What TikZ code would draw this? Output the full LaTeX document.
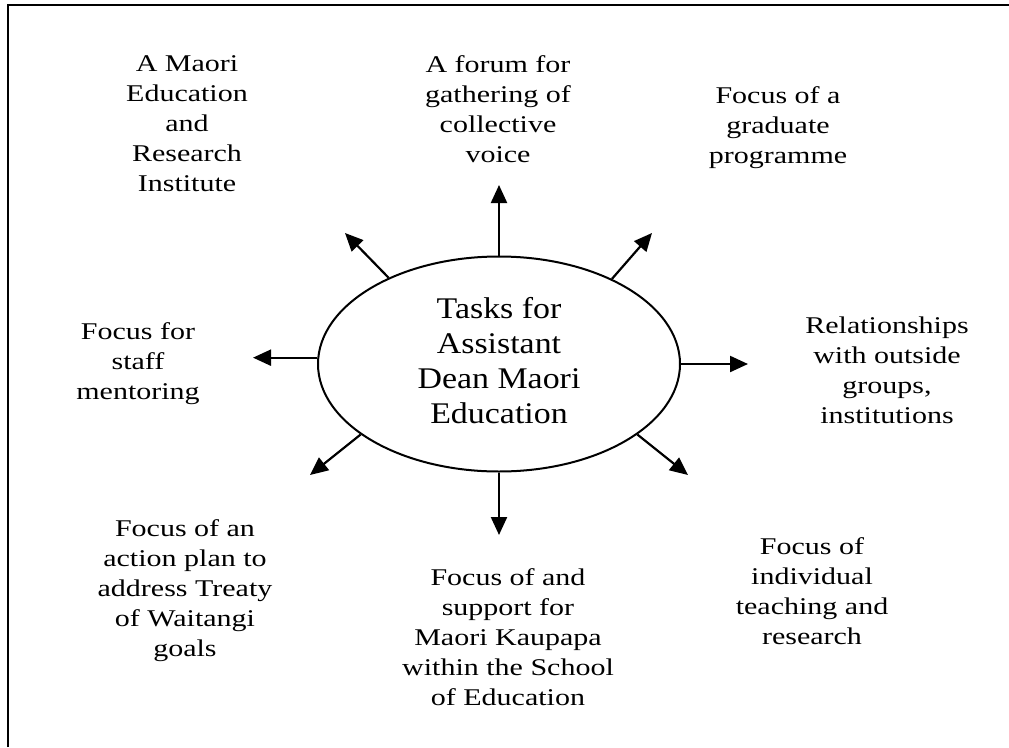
\documentclass[tikz,border=0pt]{standalone}
\usepackage{fontspec}
\setmainfont{Liberation Serif}
\usetikzlibrary{arrows.meta,shapes.geometric}
\newcommand\lbltext[1]{\scalebox{1.25}[1]{\fontsize{24}{30}\selectfont\begin{tabular}{@{}c@{}}#1\end{tabular}}}
\newcommand\ctrtext[1]{\scalebox{1.13}[1]{\fontsize{30}{35}\selectfont\begin{tabular}{@{}c@{}}#1\end{tabular}}}
\begin{document}
\begin{tikzpicture}[x=1pt,y=-1pt,
  arr/.style={line width=2.2pt,-{Triangle[length=18pt,width=16pt]}},
  lab/.style={inner sep=0pt,outer sep=0pt},
  hub/.style={ellipse,draw,line width=2pt,minimum width=362pt,minimum height=215pt,inner sep=0pt}]
\useasboundingbox (0,0) rectangle (1009,747);
\draw[line width=2pt] (8,747) -- (8,5) -- (1009,5);

\node[hub] (ell) at (499,364) {\ctrtext{Tasks for\\Assistant\\Dean Maori\\Education}};

\node[lab] (inst)  at (187,125) {\lbltext{A Maori\\Education\\and\\Research\\Institute}};
\node[lab] (forum) at (498,111) {\lbltext{A forum for\\gathering of\\collective\\voice}};
\node[lab] (grad)  at (778,127) {\lbltext{Focus of a\\graduate\\programme}};
\node[lab] (staff) at (138,363) {\lbltext{Focus for\\staff\\mentoring}};
\node[lab] (rel)   at (887,372) {\lbltext{Relationships\\with outside\\groups,\\institutions}};
\node[lab] (treaty) at (185,590) {\lbltext{Focus of an\\action plan to\\address Treaty\\of Waitangi\\goals}};
\node[lab] (kaup)  at (508,639) {\lbltext{Focus of and\\support for\\Maori Kaupapa\\within the School\\of Education}};
\node[lab] (indiv) at (812,593) {\lbltext{Focus of\\individual\\teaching and\\research}};

\coordinate (tN)  at (499,185);
\coordinate (tNW) at (345,233);
\coordinate (tNE) at (652,233);
\coordinate (tW)  at (253,357);
\coordinate (tE)  at (748,362);
\coordinate (tSW) at (310,475);
\coordinate (tSE) at (688,475);
\coordinate (tS)  at (499,535);

\draw[arr] (ell.90) -- (tN);
\draw[arr] (ell.142.6) -- (tNW);
\draw[arr] (ell.37.6) -- (tNE);
\draw[arr] (ell.178) -- (ell.178 -| tW);
\draw[arr] (ell.0.6) -- (ell.0.6 -| tE);
\draw[arr] (ell.207) -- (tSW);
\draw[arr] (ell.333) -- (tSE);
\draw[arr] (ell.270) -- (tS);
\end{tikzpicture}
\end{document}
